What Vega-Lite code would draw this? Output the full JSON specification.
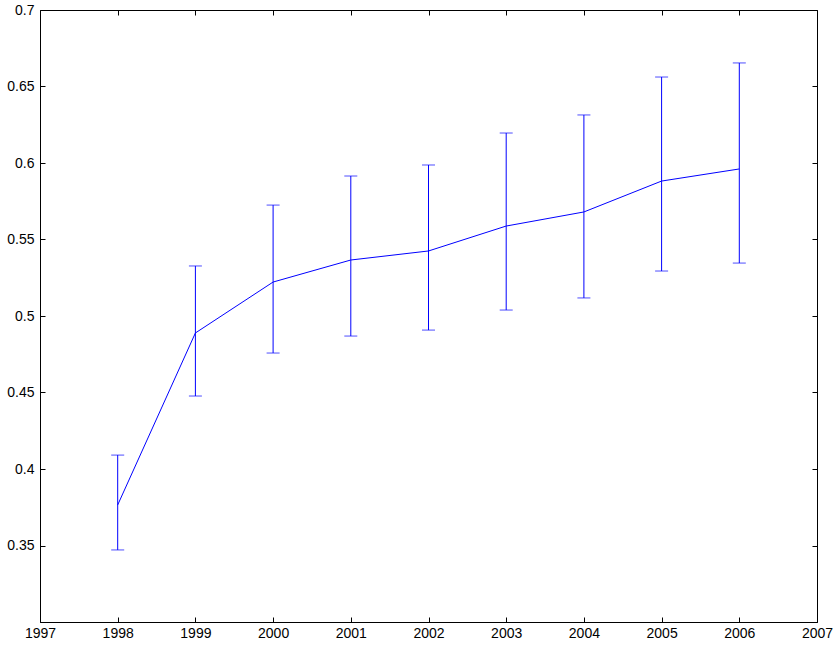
{
  "$schema": "https://vega.github.io/schema/vega-lite/v6.json",
  "width": 777,
  "height": 612,
  "autosize": "none",
  "padding": {"left": 40, "top": 10, "right": 18, "bottom": 27},
  "background": "white",
  "config": {
    "view": {"stroke": "black", "strokeWidth": 1},
    "axis": {"labelFont": "Liberation Sans", "labelFontSize": 14, "labelColor": "black", "ticks": true, "tickColor": "black", "tickWidth": 1, "tickOpacity": 1, "domainColor": "black", "grid": false, "titlePadding": 0, "zindex": 1, "labelFlush": false, "labelOverlap": false}
  },
  "data": {"values": [
    {"year": 1998, "mean": 0.3765, "lower": 0.3471, "upper": 0.4091},
    {"year": 1999, "mean": 0.4889, "lower": 0.4477, "upper": 0.5327},
    {"year": 2000, "mean": 0.5222, "lower": 0.4758, "upper": 0.5725},
    {"year": 2001, "mean": 0.5366, "lower": 0.4869, "upper": 0.5915},
    {"year": 2002, "mean": 0.5425, "lower": 0.4908, "upper": 0.5987},
    {"year": 2003, "mean": 0.5588, "lower": 0.5039, "upper": 0.6196},
    {"year": 2004, "mean": 0.568, "lower": 0.5118, "upper": 0.6314},
    {"year": 2005, "mean": 0.5882, "lower": 0.5294, "upper": 0.6562},
    {"year": 2006, "mean": 0.5961, "lower": 0.5346, "upper": 0.6654}
  ]},
  "resolve": {"axis": {"x": "independent", "y": "independent"}},
  "layer": [
    {
      "mark": {"type": "line", "color": "#0000ff", "strokeWidth": 1},
      "encoding": {
        "x": {"field": "year", "type": "quantitative", "scale": {"domain": [1997, 2007], "nice": false, "zero": false},
          "axis": {"title": null, "orient": "bottom", "values": [1997,1998,1999,2000,2001,2002,2003,2004,2005,2006,2007], "format": "d", "tickSize": -5, "labelPadding": 9, "domain": false}},
        "y": {"field": "mean", "type": "quantitative", "scale": {"domain": [0.3, 0.7], "nice": false, "zero": false},
          "axis": {"title": null, "orient": "left", "values": [0.3,0.35,0.4,0.45,0.5,0.55,0.6,0.65,0.7], "labelExpr": "datum.value < 0.32 ? '' : format(datum.value, '.2~f')", "tickSize": -5, "labelPadding": 11, "domain": false}}
      }
    },
    {
      "mark": {"type": "rule", "color": "#0000ff", "strokeWidth": 1},
      "encoding": {
        "x": {"field": "year", "type": "quantitative",
          "axis": {"title": null, "orient": "top", "values": [1997,1998,1999,2000,2001,2002,2003,2004,2005,2006,2007], "labels": false, "tickSize": -5, "domain": false}},
        "y": {"field": "lower", "type": "quantitative",
          "axis": {"title": null, "orient": "right", "values": [0.3,0.35,0.4,0.45,0.5,0.55,0.6,0.65,0.7], "labels": false, "tickSize": -5, "domain": false}},
        "y2": {"field": "upper"}
      }
    },
    {
      "mark": {"type": "tick", "color": "#0000ff", "orient": "horizontal", "size": 13, "thickness": 1},
      "encoding": {
        "x": {"field": "year", "type": "quantitative", "axis": null},
        "y": {"field": "lower", "type": "quantitative", "axis": null}
      }
    },
    {
      "mark": {"type": "tick", "color": "#0000ff", "orient": "horizontal", "size": 13, "thickness": 1},
      "encoding": {
        "x": {"field": "year", "type": "quantitative", "axis": null},
        "y": {"field": "upper", "type": "quantitative", "axis": null}
      }
    }
  ]
}
